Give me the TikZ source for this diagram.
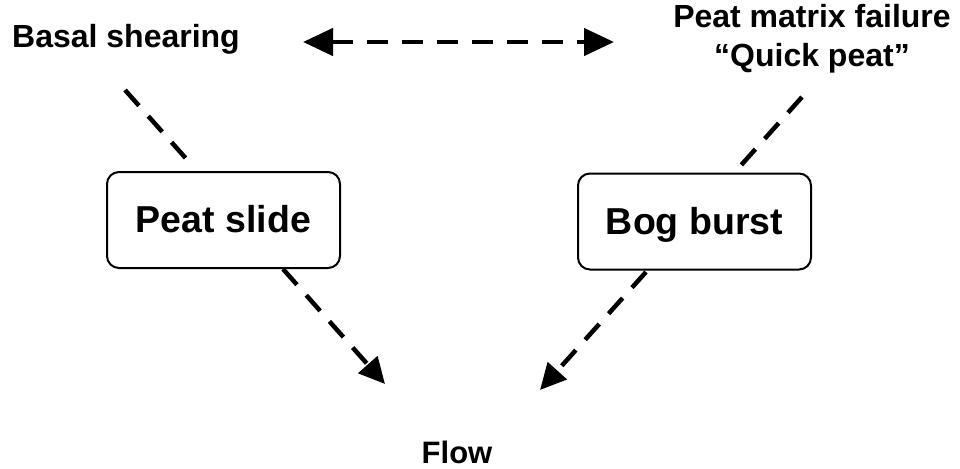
\documentclass[tikz,border=0pt]{standalone}
\usepackage{fontspec}
\setmainfont{Liberation Sans}
\usetikzlibrary{arrows.meta}
\tikzset{
  label/.style={font=\bfseries\fontsize{32}{39}\selectfont, inner sep=0pt, align=center},
  processbox/.style={draw, line width=2pt, rounded corners=12pt, minimum width=233pt, minimum height=96pt,
                     text height=30pt, text depth=5pt, font=\bfseries\fontsize{37.5}{40}\selectfont},
  dashline/.style={line width=4.5pt, dash pattern=on 21pt off 14pt},
  head/.style={-{Triangle[length=26pt,width=25pt]}}
}

\begin{document}
\begin{tikzpicture}[x=1pt, y=-1pt]
            \useasboundingbox (0,0) rectangle (960,468);
            \node[label, anchor=base] (basal)  at (126, 48) {Basal shearing};
            \node[label, anchor=north] (matrix) at (812, 4) {Peat matrix failure\\``Quick peat''};
            \node[label, anchor=base] (flow)   at (457, 463) {\fontsize{31}{32}\selectfont Flow};
            \node[processbox] (slide) at (223.5, 220) {Peat slide};
            \node[processbox] (burst) at (694.5, 221.5) {Bog burst};
            \coordinate (arrowleft)  at (303, 42);
            \coordinate (arrowright) at (614, 42);
            \coordinate (basaltop)   at (125, 90);
            \coordinate (basalend)   at (190, 163);
            \coordinate (quicktop)   at (802, 97);
            \coordinate (quickend)   at (735, 172);
            \coordinate (slidefoot)  at (283, 269);
            \coordinate (flowleft)   at (385, 384);
            \coordinate (burstfoot)  at (646, 272);
            \coordinate (flowright)  at (540, 390);
            \draw[dashline, {Triangle[length=30pt,width=27pt]}-{Triangle[length=30pt,width=27pt]}] (arrowleft) -- (arrowright);
            \draw[dashline] (basaltop) -- (basalend);
            \draw[dashline] (quicktop) -- (quickend);
            \draw[dashline, head] (slidefoot) -- (flowleft);
            \draw[dashline, head] (burstfoot) -- (flowright);
        \end{tikzpicture}
\end{document}
